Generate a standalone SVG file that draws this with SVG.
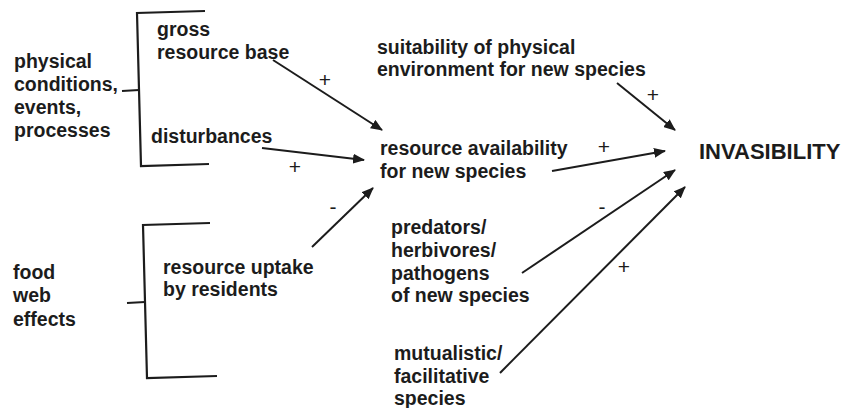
<svg xmlns="http://www.w3.org/2000/svg" width="853" height="408" viewBox="0 0 853 408">
<defs>
<style>
.t{font-family:"Liberation Sans",Arial,sans-serif;font-size:19.5px;font-weight:bold;fill:#1c1c1c}
.big{font-size:22px}
.s{font-family:"Liberation Sans",Arial,sans-serif;font-size:21px;fill:#1c1c1c;text-anchor:middle}
.br{fill:none;stroke:#1c1c1c;stroke-width:2.2}
.c{fill:none;stroke:#1c1c1c;stroke-width:2;marker-end:url(#ah)}
</style>
<marker id="ah" viewBox="0 0 12 10" refX="11" refY="5" markerWidth="12" markerHeight="10" markerUnits="userSpaceOnUse" orient="auto">
<path d="M0,0 L12,5 L0,10 z" fill="#1c1c1c"/>
</marker>
</defs>
<rect width="853" height="408" fill="#ffffff"/>

<g id="physical">
<text class="t"><tspan x="14" y="68">physical</tspan><tspan x="14" y="91">conditions,</tspan><tspan x="14" y="114">events,</tspan><tspan x="14" y="137">processes</tspan></text>
<path class="br" d="M205,11 L137,13 L141,166 L209,164"/>
<path class="br" d="M122,91 L139,90"/>
</g>

<g id="gross">
<text class="t"><tspan x="157" y="36">gross</tspan><tspan x="157" y="59">resource base</tspan></text>
</g>

<g id="disturbances">
<text class="t" x="151" y="143">disturbances</text>
</g>

<g id="foodweb">
<text class="t"><tspan x="13" y="279">food</tspan><tspan x="13" y="302">web</tspan><tspan x="13" y="326">effects</tspan></text>
<path class="br" d="M210,223 L143,225 L147,378 L217,376"/>
<path class="br" d="M127,303 L145,302"/>
</g>

<g id="uptake">
<text class="t"><tspan x="163" y="274">resource uptake</tspan><tspan x="163" y="296">by residents</tspan></text>
</g>

<g id="suitability">
<text class="t"><tspan x="377" y="54">suitability of physical</tspan><tspan x="377" y="76">environment for new species</tspan></text>
</g>

<g id="availability">
<text class="t"><tspan x="380" y="155">resource availability</tspan><tspan x="380" y="178">for new species</tspan></text>
</g>

<g id="predators">
<text class="t"><tspan x="391" y="234">predators/</tspan><tspan x="391" y="257">herbivores/</tspan><tspan x="391" y="280">pathogens</tspan><tspan x="391" y="302">of new species</tspan></text>
</g>

<g id="mutualistic">
<text class="t"><tspan x="394" y="360">mutualistic/</tspan><tspan x="394" y="383">facilitative</tspan><tspan x="394" y="405">species</tspan></text>
</g>

<g id="invasibility">
<text class="t big" x="699" y="159">INVASIBILITY</text>
</g>

<g id="connectors">
<line class="c" x1="273" y1="60" x2="382" y2="130"/>
<line class="c" x1="262" y1="148" x2="364" y2="160"/>
<line class="c" x1="312" y1="247" x2="373" y2="188"/>
<line class="c" x1="617" y1="83" x2="675" y2="130"/>
<line class="c" x1="552" y1="171" x2="665" y2="151"/>
<line class="c" x1="522" y1="273" x2="675" y2="170"/>
<line class="c" x1="500" y1="373" x2="685" y2="187"/>
<text class="s" x="325" y="87">+</text>
<text class="s" x="295" y="174">+</text>
<text class="s" x="333" y="214">-</text>
<text class="s" x="653" y="102">+</text>
<text class="s" x="604" y="154">+</text>
<text class="s" x="602" y="214">-</text>
<text class="s" x="624" y="274">+</text>
</g>
</svg>
